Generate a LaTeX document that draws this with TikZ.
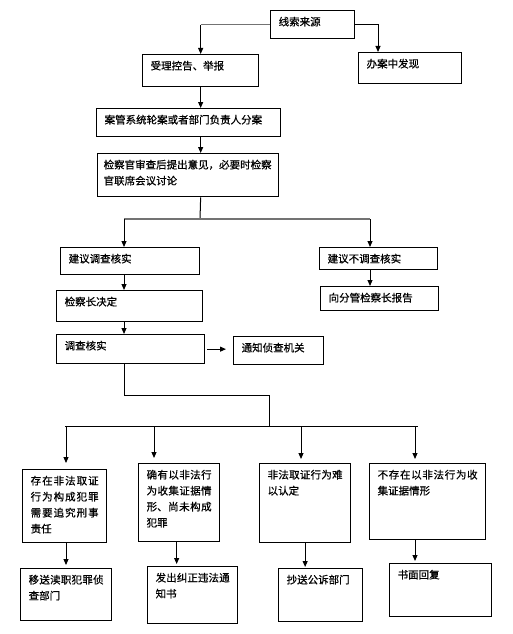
\documentclass[tikz,border=0pt]{standalone}
\usepackage{fontspec}
\newfontfamily\cjk[FakeBold=0.6]{Noto Sans CJK SC}
\usetikzlibrary{arrows.meta}
\XeTeXlinebreaklocale "zh"
\XeTeXlinebreakskip=0pt plus 2pt

\begin{document}
\begin{tikzpicture}[x=1pt,y=-1pt,
  flow/.style={draw,line width=1.3pt,anchor=north west,inner xsep=8pt,inner ysep=4pt,
    text height=11pt,align=left,font=\cjk\fontsize{10.5}{16}\selectfont},
  just/.style={flow,align=justify},
  arr/.style={line width=1pt,-{Triangle[length=6pt,width=5pt]}},
  link/.style={line width=1pt},
  gline/.style={draw=black!55,line width=1.3pt},
]
\useasboundingbox (0,0) rectangle (512,634);

% top part
\node[flow,text width=68pt,text depth=9pt] (src) at (270,10) {线索来源};
\node[flow,text width=100pt,text depth=13pt] (acc) at (142,54) {受理控告、举报};
\node[flow,text width=87pt,text depth=12pt] (found) at (358,52) {办案中发现};
\node[flow,text width=168pt,text depth=9pt] (split) at (96,108) {案管系统轮案或者部门负责人分案};
\node[flow,inner xsep=6pt,text width=169pt,text depth=24pt] (rev) at (97,153)
  {检察官审查后提出意见，必要时检察\\官联席会议讨论};

% middle part
\node[flow,text width=123pt,text depth=8pt] (inv) at (60,247) {建议调查核实};
\node[flow,text width=102pt,text depth=3pt] (noinv) at (319,247) {建议不调查核实};
\node[flow,text width=102pt,text depth=5pt] (report) at (320,286) {向分管检察长报告};
\node[flow,text width=130pt,text depth=12pt] (decide) at (56,290) {检察长决定};
\node[flow,text width=132pt,text depth=10pt] (check) at (56,334) {调查核实};
\node[flow,text width=74pt,text depth=9pt] (notify) at (233,336) {通知侦查机关};

% results
\node[just,text width=68pt,text depth=54pt] (case1) at (22,469) {存在非法取证行为构成犯罪需要追究刑事责任};
\node[just,text width=65pt,text depth=59pt] (case2) at (138,463) {确有以非法行为收集证据情形、尚未构成犯罪};
\node[just,text width=75pt,text depth=60pt] (case3) at (259,463) {非法取证行为难以认定};
\node[just,text width=100pt,text depth=57pt] (case4) at (369,463) {不存在以非法行为收集证据情形};
\node[just,text width=75pt,text depth=33pt] (res1) at (20,568) {移送渎职犯罪侦查部门};
\node[just,text width=74pt,text depth=38pt] (res2) at (147,566) {发出纠正违法通知书};
\node[just,text width=68pt,text depth=34pt] (res3) at (278,568) {抄送公诉部门};
\node[just,text width=86pt,text depth=34pt] (res4) at (389,563) {书面回复};

% connectors
\draw[gline] (src.west) -- (src.west -| acc.north);
\draw[arr] (src.west -| acc.north) -- (acc.north);
\draw[arr] (src.east) -| ([xshift=20pt]found.north west);
\draw[arr] (acc.south) -- (acc.south |- split.north);
\draw[arr] (acc.south |- split.south) -- (acc.south |- rev.north);

\coordinate (j) at (200,219);
\coordinate (jl) at (124,219);
\coordinate (jr) at (370,219);
\draw[link] (acc.south |- rev.south) -- (j);
\draw[gline] (jl) -- (jr);
\draw[arr] (jl) -- (jl |- inv.north);
\draw[arr] (jr) -- (jr |- noinv.north);
\draw[arr] (jr |- noinv.south) -- (jr |- report.north);
\draw[arr] (jl |- inv.south) -- (jl |- decide.north);
\draw[arr] (jl |- decide.south) -- (jl |- check.north);
\draw[arr,shorten <=2pt,shorten >=7pt] (check.east) -- (check.east -| notify.west);

\coordinate (k) at (269,395);
\coordinate (hub) at (269,426);
\draw[link] (jl |- check.south) |- (k) -- (hub);
\coordinate (bl) at (65,426);
\coordinate (br) at (418,426);
\draw[link] (bl) -- (br);
\coordinate (d1) at (66,426);
\coordinate (d2) at (154,426);
\coordinate (d3) at (301,426);
\coordinate (d4) at (415,426);
\draw[arr,shorten >=6pt] (d1) -- (d1 |- case1.north);
\draw[arr,shorten >=5pt] (d2) -- (d2 |- case2.north);
\draw[arr,shorten >=4pt] (d3) -- (d3 |- case3.north);
\draw[arr,shorten >=4pt] (d4) -- (d4 |- case4.north);

\coordinate (f2) at ([xshift=-2.5pt]case2.south);
\draw[arr,shorten >=3pt] (d1 |- case1.south) -- (d1 |- res1.north);
\draw[arr,shorten >=2pt] (f2) -- (f2 |- res2.north);
\draw[arr,shorten >=1pt] (case3.south) -- (case3.south |- res3.north);
\draw[arr,shorten >=2pt] (d4 |- case4.south) -- (d4 |- res4.north);
\end{tikzpicture}
\end{document}
